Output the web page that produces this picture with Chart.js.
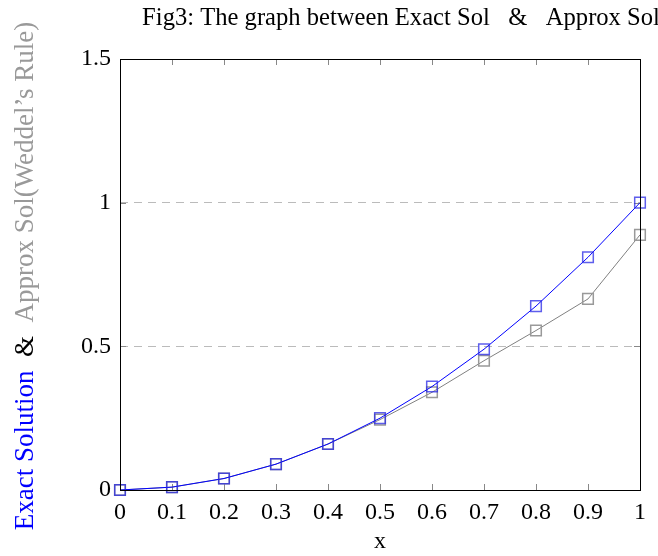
<!DOCTYPE html>
<html>
<head>
<meta charset="utf-8">
<script src="https://cdn.jsdelivr.net/npm/chart.js@4"></script>
<style>
  html, body { margin: 0; padding: 0; background: #fff; }
  #wrap { width: 658px; height: 556px; }
</style>
</head>
<body>
<div id="wrap"><canvas id="myChart" width="658" height="556"></canvas></div>
<script>
  'use strict';

  const xValues = [0, 0.1, 0.2, 0.3, 0.4, 0.5, 0.6, 0.7, 0.8, 0.9, 1];
  const exactValues = [0, 0.01, 0.04, 0.09, 0.16, 0.25, 0.36, 0.49, 0.64, 0.81, 1];
  const approxValues = [0, 0.01, 0.04, 0.09, 0.16, 0.245, 0.34, 0.45, 0.555, 0.665, 0.888];
  const yTicks = [0, 0.5, 1, 1.5];

  const FONT = '"Liberation Serif", "Times New Roman", serif';

  function toPoints(ys) {
    return xValues.map((x, i) => ({ x: x, y: ys[i] }));
  }

  /* frame, inner ticks and the text around the plot */
  const decorations = {
    id: 'decorations',
    beforeDatasetsDraw(chart) {
      const { ctx, chartArea: a, scales } = chart;
      ctx.save();
      ctx.strokeStyle = '#888';
      ctx.lineWidth = 1;
      for (const v of xValues) {
        const px = Math.round(scales.x.getPixelForValue(v)) + 0.5;
        ctx.beginPath();
        ctx.moveTo(px, a.bottom); ctx.lineTo(px, a.bottom - 6);
        ctx.moveTo(px, a.top); ctx.lineTo(px, a.top + 6);
        ctx.stroke();
      }
      for (const v of yTicks) {
        const py = Math.round(scales.y.getPixelForValue(v)) + 0.5;
        ctx.beginPath();
        ctx.moveTo(a.left, py); ctx.lineTo(a.left + 6, py);
        ctx.moveTo(a.right, py); ctx.lineTo(a.right - 6, py);
        ctx.stroke();
      }
      ctx.restore();
    },
    afterDraw(chart) {
      const { ctx, chartArea: a } = chart;
      ctx.save();
      ctx.strokeStyle = '#000';
      ctx.lineWidth = 1;
      ctx.strokeRect(Math.round(a.left) + 0.5, Math.round(a.top) + 0.5,
        Math.round(a.right - a.left), Math.round(a.bottom - a.top));

      // title
      ctx.fillStyle = '#000';
      ctx.font = '24.6px ' + FONT;
      ctx.textAlign = 'center';
      ctx.textBaseline = 'alphabetic';
      ctx.fillText('Fig3: The graph between Exact Sol   &   Approx Sol', 401, 25);

      // x label
      ctx.font = '24px ' + FONT;
      ctx.fillText('x', (a.left + a.right) / 2, 548);

      // y label, several colours
      ctx.translate(33, 276);
      ctx.rotate(-Math.PI / 2);
      ctx.font = '27px ' + FONT;
      const parts = [
        ['Exact Solution', '#0000ff'],
        ['  &  ', '#000'],
        ['Approx Sol(Weddel\u2019s Rule)', '#999']
      ];
      let total = 0;
      for (const p of parts) total += ctx.measureText(p[0]).width;
      let pos = -total / 2;
      ctx.textAlign = 'left';
      for (const p of parts) {
        ctx.fillStyle = p[1];
        ctx.fillText(p[0], pos, 0);
        pos += ctx.measureText(p[0]).width;
      }
      ctx.restore();
    }
  };

  const ctx = document.getElementById('myChart').getContext('2d');

  const chart = new Chart(ctx, {
    type: 'line',
    data: {
      datasets: [{
        label: 'Exact Solution',
        data: toPoints(exactValues),
        borderColor: '#0000ff',
        borderWidth: 1,
        pointStyle: 'rect',
        pointRadius: 7.5,
        pointBorderWidth: 1.5,
        pointBorderColor: 'rgba(40,40,230,0.75)',
        pointBackgroundColor: 'rgba(0,0,0,0)',
        tension: 0,
        clip: false
      },
      {
        label: 'Approx Sol',
        data: toPoints(approxValues),
        borderColor: '#808080',
        borderWidth: 1,
        pointStyle: 'rect',
        pointRadius: 7.5,
        pointBorderWidth: 1.5,
        pointBorderColor: '#999',
        pointBackgroundColor: 'rgba(0,0,0,0)',
        tension: 0,
        clip: false
      }]
    },
    options: {
      responsive: false,
      animation: false,
      devicePixelRatio: 1,
      layout: { padding: { left: 0, right: 18, top: 59, bottom: 0 } },
      plugins: {
        legend: { display: false },
        title: { display: false },
        tooltip: { enabled: false }
      },
      scales: {
        x: {
          type: 'linear',
          min: 0,
          max: 1,
          border: { display: false },
          grid: { display: false, drawTicks: false },
          ticks: {
            stepSize: 0.1,
            padding: 8,
            color: '#000',
            font: { family: FONT, size: 24 },
            callback: v => String(Math.round(v * 10) / 10)
          },
          afterFit(scale) { scale.height = 66; }
        },
        y: {
          min: 0,
          max: 1.5,
          border: { display: false },
          grid: {
            drawTicks: false,
            color: ctx => (ctx.tick && (ctx.tick.value === 0.5 || ctx.tick.value === 1)) ? '#bbb' : 'rgba(0,0,0,0)',
            lineWidth: 1
          },
          ticks: {
            stepSize: 0.5,
            padding: 9,
            color: '#000',
            font: { family: FONT, size: 24 },
            callback: v => String(v)
          },
          afterFit(scale) { scale.width = 120; }
        }
      }
    },
    plugins: [decorations]
  });

  // dashed horizontal grid
  chart.options.scales.y.border.dash = [8, 6];
  chart.update();
</script>
</body>
</html>
